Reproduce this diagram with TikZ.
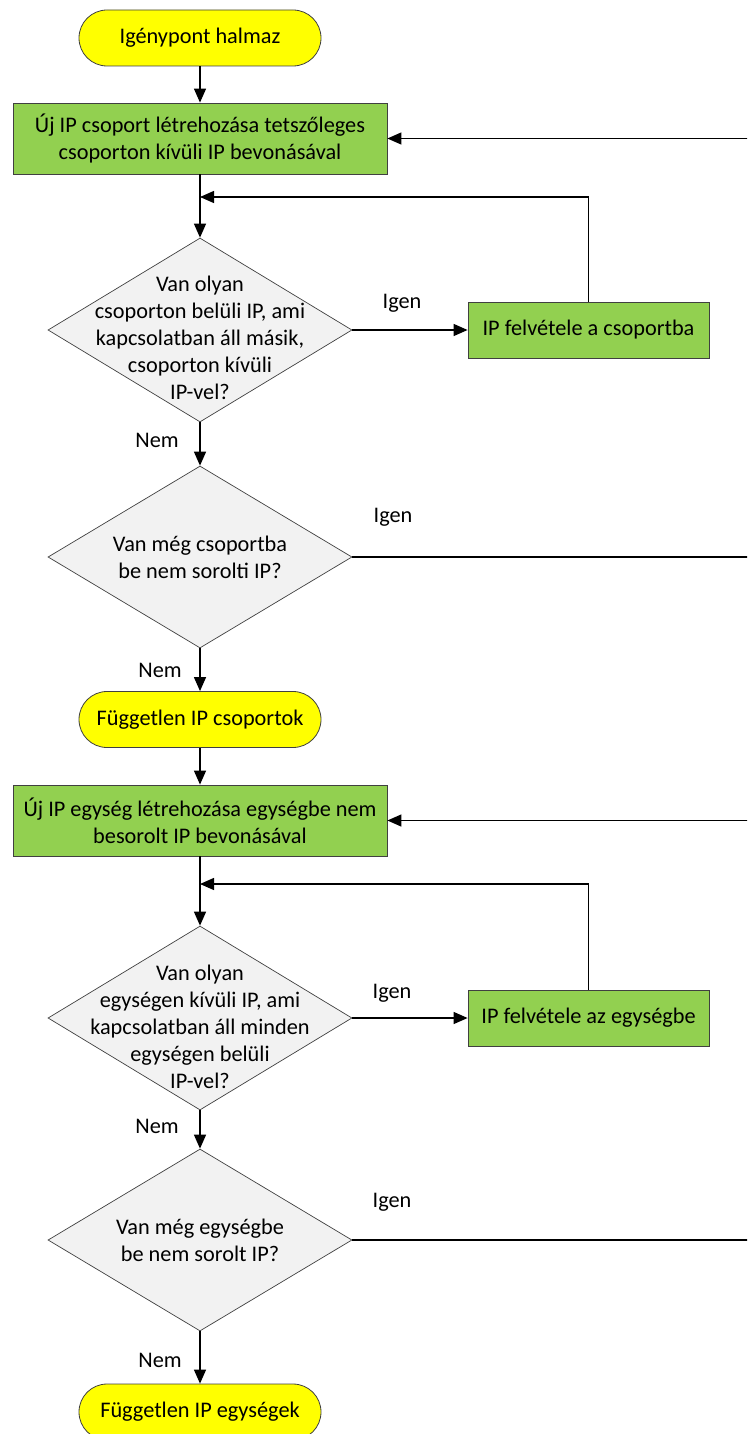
\documentclass[tikz,border=0pt]{standalone}
\usepackage{fontspec}
\setmainfont{Carlito}
\usetikzlibrary{arrows.meta,shapes.geometric}
\definecolor{termfill}{HTML}{FFFF00}
\definecolor{procfill}{HTML}{92D050}
\definecolor{decfill}{HTML}{F2F2F2}
\definecolor{edgegrey}{HTML}{404040}
\begin{document}
\begin{tikzpicture}[x=1pt,y=-1pt,
  font=\fontsize{22.3}{27}\selectfont,
  term/.style={draw=edgegrey,line width=0.8pt,fill=termfill,rectangle,rounded corners=28pt,minimum width=242pt,minimum height=56pt,inner sep=0pt},
  proc/.style={draw=edgegrey,line width=0.8pt,fill=procfill,rectangle,minimum width=374pt,minimum height=71pt,inner sep=0pt,align=center},
  small/.style={proc,minimum width=241pt,minimum height=56pt},
  dec/.style={diamond,draw=edgegrey,line width=0.7pt,fill=decfill,minimum width=304pt,minimum height=184pt,inner sep=0pt},
  dtext/.style={align=center,inner sep=0pt},
  lbl/.style={inner sep=0pt},
  arr/.style={line width=1.3pt,-{Triangle[length=14pt,width=12pt]}},
  ln/.style={line width=1.3pt}]
\useasboundingbox (0,0) rectangle (747,1434);
\clip (0,0) rectangle (747,1434);

% nodes
\node[term] (s) at (200,38) {Igénypont halmaz};
\node[proc] (b1) at (200,138.5) {Új IP csoport létrehozása tetszőleges\\csoporton kívüli IP bevonásával};
\node[dec] (d1) at (200,330) {};
\node[dtext] (t1) at (200,338) {Van olyan\\csoporton belüli IP, ami\\kapcsolatban áll másik,\\csoporton kívüli\\IP-vel?};
\node[small] (p1) at (588.5,330) {IP felvétele a csoportba};
\node[dec,minimum height=182pt] (d2) at (200,557) {};
\node[dtext] (t2) at (200,557) {Van még csoportba\\be nem sorolti IP?};
\node[term] (e1) at (200,719.5) {Független IP csoportok};
\node[proc] (b2) at (200,820.5) {Új IP egység létrehozása egységbe nem\\besorolt IP bevonásával};
\node[dec] (d3) at (200,1018) {};
\node[dtext] (t3) at (200,1027) {Van olyan\\egységen kívüli IP, ami\\kapcsolatban áll minden\\egységen belüli\\IP-vel?};
\node[small] (p2) at (588.5,1018) {IP felvétele az egységbe};
\node[dec,minimum height=182pt] (d4) at (200,1240) {};
\node[dtext] (t4) at (200,1240) {Van még egységbe\\be nem sorolt IP?};
\node[term] (e2) at (200,1412) {Független IP egységek};

% labels
\node[lbl] (ig1) at (402,303) {Igen};
\node[lbl] (ig2) at (393,517) {Igen};
\node[lbl] (ig3) at (392,993) {Igen};
\node[lbl] (ig4) at (392,1202) {Igen};
\node[lbl] (n1) at (157,440) {Nem};
\node[lbl] (n2) at (160,670) {Nem};
\node[lbl] (n3) at (157,1126) {Nem};
\node[lbl] (n4) at (160,1360) {Nem};

% helper coordinates
\coordinate (j1) at (200,197);
\coordinate (j2) at (200,884);
\coordinate (rx) at (765,0);

% connectors
\draw[arr] (s.south) -- (b1.north);
\draw[arr] (b1.south) -- (d1.north);
\draw[arr] (d1.east) -- (p1.west);
\draw[arr] (p1.north) |- (j1);
\draw[arr] (d1.south) -- (d2.north);
\draw[arr] (d2.east) -- (d2.east -| rx) |- (b1.east);
\draw[arr] (d2.south) -- (e1.north);
\draw[arr] (e1.south) -- (b2.north);
\draw[arr] (b2.south) -- (d3.north);
\draw[arr] (d3.east) -- (p2.west);
\draw[arr] (p2.north) |- (j2);
\draw[arr] (d3.south) -- (d4.north);
\draw[arr] (d4.east) -- (d4.east -| rx) |- (b2.east);
\draw[arr] (d4.south) -- (e2.north);
\end{tikzpicture}
\end{document}
